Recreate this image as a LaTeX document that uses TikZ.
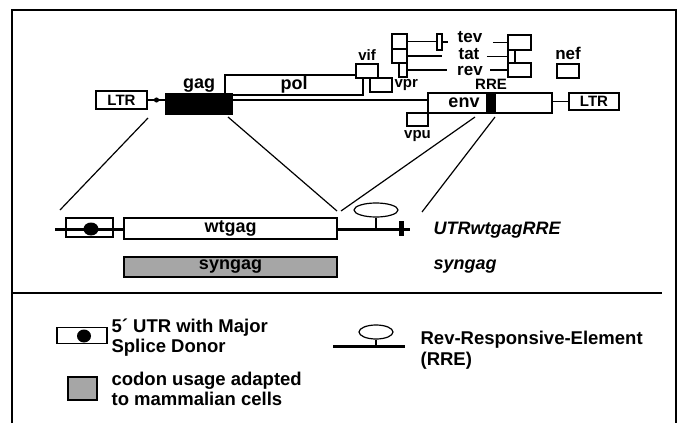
\documentclass[tikz,border=0pt]{standalone}
\usepackage{fontspec}
\setmainfont{Liberation Sans}
\usetikzlibrary{positioning, shapes.geometric}

\begin{document}
\begin{tikzpicture}[x=1pt, y=-1pt, line width=1.2pt,
    box/.style={draw, rectangle, inner sep=0pt, outer sep=0pt},
    lbl/.style={inner sep=0pt, font=\fontsize{15}{15}\selectfont\bfseries},
    big/.style={inner sep=0pt, font=\fontsize{18}{18}\selectfont\bfseries},
    mid/.style={inner sep=0pt, font=\fontsize{17}{17}\selectfont\bfseries},
    leg/.style={inner sep=0pt, align=left, anchor=west, font=\fontsize{18.5}{20}\selectfont\bfseries},
    thickline/.style={line width=3pt},
    loop/.style={draw, ellipse, inner sep=0pt, fill=white}]
    \useasboundingbox (0,0) rectangle (679,423);

    % frame
    \draw[line width=1.6pt] (12,423) -- (12,10) -- (676,10) -- (676,423);

    % genome
    \node[box, minimum width=51pt, minimum height=18pt, font=\fontsize{15}{15}\selectfont\bfseries] (ltrL) at (121.5,100) {LTR};
    \node[box, fill=white, minimum width=138pt, minimum height=20pt, font=\fontsize{18}{18}\selectfont\bfseries] (pol) at (294,85) {pol};
    \node[box, fill=black, minimum width=66pt, minimum height=20pt] (gag) at (199,104) {};
    \node[big, above=1pt of gag] (gagL) {gag};
    \draw (ltrL.east) -- (ltrL.east -| gag.west) node[midway, circle, fill, inner sep=1.8pt] (sd) {};

    \node[box, fill=white, minimum width=22pt, minimum height=14pt] (vif) at (367,71) {};
    \node[lbl, above=3pt of vif] (vifL) {vif};
    \node[box, fill=white, minimum width=22pt, minimum height=14pt] (vpr) at (381,85) {};
    \node[lbl, right=2pt of vpr] (vprL) {vpr};

    \node[box, fill=white, minimum width=124pt, minimum height=20pt] (env) at (490,103) {};
    \node[fill=black, inner sep=0pt, minimum width=10pt, minimum height=20pt] (rre) at (491,103) {};
    \node[big] (envL) at (464,103) {env};
    \node[lbl, above=2pt of rre] (rreL) {RRE};
    \draw ([yshift=4pt]gag.east) -- ([yshift=4pt]gag.east -| env.west);
    \node[box, minimum width=21pt, minimum height=13pt] (vpu) at (417.5,119.5) {};
    \node[lbl, below=4pt of vpu] (vpuL) {vpu};
    \node[box, minimum width=50pt, minimum height=17pt, font=\fontsize{15}{15}\selectfont\bfseries] (ltrR) at (594,101.5) {LTR};
    \draw (env.east |- ltrR.west) -- (ltrR.west);

    % tev, tat, rev
    \node[box, minimum width=15pt, minimum height=15pt] (exA) at (399.5,41.5) {};
    \node[box, minimum width=15pt, minimum height=14pt] (exB) at (399.5,56) {};
    \node[box, minimum width=8pt, minimum height=14pt] (exC) at (403,70) {};
    \node[box, minimum width=5pt, minimum height=16pt] (exT) at (439.5,42) {};
    \node[mid] (tev) at (470,37.5) {tev};
    \node[mid] (tat) at (469,54.5) {tat};
    \node[mid] (rev) at (470,71.5) {rev};
    \node[box, minimum width=23pt, minimum height=15pt] (exD) at (519.5,42.5) {};
    \node[box, minimum width=7pt, minimum height=13pt] (exE) at (511.5,56.5) {};
    \node[box, minimum width=23pt, minimum height=14pt] (exF) at (519.5,70) {};
    \draw (exA.east) -- (exA.east -| exT.west);
    \draw[shorten >=9pt] (exT.east) -- (exT.east -| tev.west);
    \draw[shorten >=16pt] (exB.east) -- (exB.east -| tat.west);
    \draw[shorten >=10pt] (exC.east) -- (exC.east -| rev.west);
    \draw[shorten <=10pt] (tev.east |- exD.west) -- (exD.west);
    \draw[shorten <=7pt] (tat.east |- exE.west) -- (exE.west);
    \draw[shorten <=7pt] (rev.east |- exF.west) -- (exF.west);
    \node[box, minimum width=22pt, minimum height=14pt] (nef) at (568,71) {};
    \node[mid, above=4pt of nef] (nefL) {nef};

    % constructs
    \coordinate (lEnd) at (55,229);
    \coordinate (rEnd) at (410,229);
    \node[box, fill=white, minimum width=213pt, minimum height=21pt, font=\fontsize{18}{18}\selectfont\bfseries] (wtgag) at (230.5,228.5) {wtgag};
    \draw[thickline] (lEnd) -- (lEnd -| wtgag.west);
    \node[box, minimum width=47pt, minimum height=19pt] (utr) at (89.5,227.5) {};
    \node[ellipse, fill=black, inner sep=0pt, minimum width=15pt, minimum height=13pt] (utrDot) at (91,229) {};
    \draw[thickline] (rEnd -| wtgag.east) -- (rEnd);
    \node[fill=black, inner sep=0pt, minimum width=5pt, minimum height=15pt] (stop) at (401,228) {};
    \node[loop, minimum width=44pt, minimum height=14pt] (rreLoop) at (376,210) {};
    \draw (rreLoop.south) -- (rreLoop.south |- rEnd);
    \node[box, fill=black!35, minimum width=213pt, minimum height=20pt, font=\fontsize{18}{18}\selectfont\bfseries] (syngag) at (230.5,267) {syngag};
    \node[big, anchor=west, font=\fontsize{18}{18}\selectfont\bfseries\itshape] (nameA) at (433,230) {UTRwtgagRRE};
    \node[big, anchor=west, font=\fontsize{18}{18}\selectfont\bfseries\itshape] (nameB) at (433,267) {syngag};

    % zoom lines
    \coordinate (z1) at (148,118);
    \coordinate (z2) at (60,210);
    \coordinate (z3) at (228,117);
    \coordinate (z4) at (337,211);
    \coordinate (z5) at (475,117);
    \coordinate (z6) at (341,211);
    \coordinate (z7) at (495,117);
    \coordinate (z8) at (422,212);
    \draw (z1) -- (z2);
    \draw (z3) -- (z4);
    \draw (z5) -- (z6);
    \draw (z7) -- (z8);

    % legend
    \draw[line width=1.4pt] (12,293) -- (662,293);
    \node[box, minimum width=50pt, minimum height=16pt] (legUtr) at (82,335.5) {};
    \node[ellipse, fill=black, inner sep=0pt, minimum width=14pt, minimum height=13pt] (legDot) at (84,336) {};
    \node[leg] (legUtrT) at (111,337.5) {5´ UTR with Major\\Splice Donor};
    \node[box, fill=black!35, minimum width=29pt, minimum height=23pt] (legSyn) at (82.5,388.5) {};
    \node[leg] (legSynT) at (111,388.5) {codon usage adapted\\to mammalian cells};
    \coordinate (legL) at (333,346);
    \coordinate (legR) at (405,346);
    \draw[thickline] (legL) -- (legR);
    \node[loop, minimum width=34pt, minimum height=14pt] (legLoop) at (376,332) {};
    \draw (legLoop.south) -- (legLoop.south |- legL);
    \node[leg, font=\fontsize{18.5}{21}\selectfont\bfseries] (legRreT) at (420,350.5) {Rev-Responsive-Element\\(RRE)};
\end{tikzpicture}
\end{document}
